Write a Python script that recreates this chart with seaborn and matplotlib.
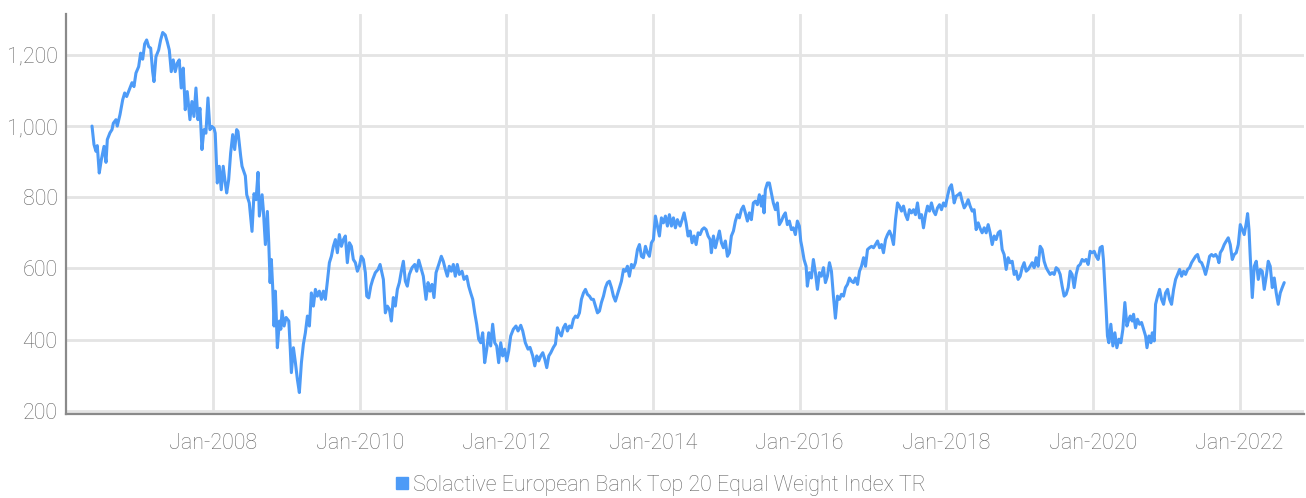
import matplotlib
matplotlib.use("Agg")
import matplotlib.pyplot as plt
import matplotlib.dates as mdates
from matplotlib.lines import Line2D
from matplotlib.ticker import FuncFormatter
import seaborn as sns
import pandas as pd

SERIES_NAME = "Solactive European Bank Top 20 Equal Weight Index TR"

# Observation times (decimal years) and index levels, grouped by period
t_2006_2008 = [
    2006.345, 2006.372, 2006.399, 2006.417, 2006.444, 2006.472, 2006.509, 2006.536, 2006.554, 2006.590,
    2006.618, 2006.636, 2006.672, 2006.690, 2006.727, 2006.764, 2006.791, 2006.818, 2006.854, 2006.891,
    2006.918, 2006.945, 2006.982,
    2007.009, 2007.037, 2007.064, 2007.091, 2007.119, 2007.146, 2007.173, 2007.191, 2007.218, 2007.255,
    2007.282, 2007.310, 2007.345, 2007.372, 2007.400, 2007.427, 2007.454, 2007.481, 2007.509, 2007.536,
    2007.563, 2007.591, 2007.618, 2007.645, 2007.682, 2007.709, 2007.737, 2007.764, 2007.791, 2007.819,
    2007.846, 2007.873, 2007.900, 2007.928, 2007.955, 2007.982,
    2008.010, 2008.027, 2008.055, 2008.082, 2008.109, 2008.136, 2008.164, 2008.183, 2008.210, 2008.237,
    2008.265, 2008.292, 2008.319, 2008.337, 2008.374, 2008.392, 2008.437, 2008.456, 2008.491, 2008.528,
    2008.555, 2008.583, 2008.610, 2008.628, 2008.665, 2008.682, 2008.710, 2008.737, 2008.756, 2008.774,
    2008.791, 2008.811, 2008.828, 2008.846, 2008.873, 2008.901, 2008.920, 2008.937, 2008.965, 2008.992,
]
v_2006_2008 = [
    1000, 948, 929, 945, 868, 905, 943, 898, 962, 981,
    990, 1008, 1018, 1000, 1032, 1074, 1093, 1083, 1102, 1122,
    1111, 1149, 1167,
    1205, 1188, 1231, 1242, 1223, 1219, 1153, 1125, 1195, 1214,
    1242, 1263, 1256, 1237, 1214, 1153, 1186, 1153, 1177, 1186,
    1107, 1163, 1046, 1097, 1018, 1069, 1027, 1107, 1018, 1050,
    934, 990, 980, 1079, 990, 999,
    994, 980, 840, 887, 821, 887, 840, 812, 849, 924,
    976, 934, 990, 985, 915, 887, 860, 807, 784, 704,
    810, 793, 870, 747, 807, 765, 667, 760, 672, 560,
    625, 541, 438, 536, 377, 452, 429, 480, 438, 462,
]

t_2009_2011 = [
    2009.029, 2009.047, 2009.064, 2009.092, 2009.119, 2009.146, 2009.173, 2009.201, 2009.228, 2009.255,
    2009.283, 2009.310, 2009.337, 2009.365, 2009.392, 2009.419, 2009.446, 2009.474, 2009.501, 2009.528,
    2009.556, 2009.583, 2009.610, 2009.637, 2009.665, 2009.692, 2009.719, 2009.747, 2009.774, 2009.801,
    2009.828, 2009.856, 2009.883, 2009.910, 2009.938, 2009.965, 2009.992,
    2010.019, 2010.047, 2010.074, 2010.093, 2010.120, 2010.148, 2010.175, 2010.210, 2010.247, 2010.275,
    2010.320, 2010.347, 2010.374, 2010.402, 2010.429, 2010.456, 2010.483, 2010.511, 2010.538, 2010.565,
    2010.593, 2010.620, 2010.647, 2010.674, 2010.711, 2010.748, 2010.775, 2010.803, 2010.838, 2010.865,
    2010.902, 2010.930, 2010.957, 2010.984,
    2011.011, 2011.039, 2011.076, 2011.111, 2011.138, 2011.166, 2011.193, 2011.220, 2011.248, 2011.275,
    2011.302, 2011.329, 2011.357, 2011.394, 2011.421, 2011.458, 2011.485, 2011.512, 2011.540, 2011.567,
    2011.594, 2011.621, 2011.649, 2011.676, 2011.703, 2011.731, 2011.758, 2011.785, 2011.812, 2011.840,
    2011.867, 2011.894, 2011.922, 2011.949, 2011.976,
]
v_2009_2011 = [
    452, 382, 307, 377, 335, 288, 251, 335, 387, 419,
    466, 438, 531, 494, 541, 522, 536, 513, 536, 513,
    564, 616, 634, 662, 681, 644, 695, 662, 681, 691,
    616, 672, 662, 625, 616, 592, 606,
    634, 625, 588, 522, 517, 550, 569, 588, 597, 611,
    569, 475, 494, 485, 452, 518, 494, 541, 560, 592,
    620, 564, 550, 583, 602, 611, 592, 623, 597, 578,
    513, 560, 536, 555,
    518, 588, 611, 634, 620, 597, 578, 606, 592, 611,
    578, 611, 583, 592, 569, 578, 550, 531, 513, 475,
    443, 401, 391, 419, 335, 373, 419, 382, 443, 391,
    382, 335, 391, 354, 373,
]

t_2012_2014 = [
    2012.004, 2012.031, 2012.058, 2012.094, 2012.130, 2012.158, 2012.195, 2012.222, 2012.257, 2012.294,
    2012.321, 2012.358, 2012.386, 2012.413, 2012.440, 2012.467, 2012.495, 2012.522, 2012.549, 2012.577,
    2012.604, 2012.639, 2012.667, 2012.694, 2012.721, 2012.748, 2012.776, 2012.803, 2012.830, 2012.858,
    2012.885, 2012.912, 2012.940, 2012.967, 2012.994,
    2013.021, 2013.049, 2013.076, 2013.103, 2013.131, 2013.158, 2013.185, 2013.212, 2013.240, 2013.267,
    2013.294, 2013.322, 2013.349, 2013.376, 2013.403, 2013.431, 2013.458, 2013.485, 2013.513, 2013.540,
    2013.567, 2013.595, 2013.622, 2013.649, 2013.676, 2013.704, 2013.731, 2013.758, 2013.786, 2013.813,
    2013.840, 2013.867, 2013.895, 2013.922, 2013.949, 2013.977,
    2014.004, 2014.031, 2014.058, 2014.086, 2014.113, 2014.140, 2014.168, 2014.195, 2014.222, 2014.250,
    2014.277, 2014.304, 2014.331, 2014.368, 2014.396, 2014.423, 2014.450, 2014.477, 2014.505, 2014.532,
    2014.559, 2014.587, 2014.614, 2014.641, 2014.668, 2014.696, 2014.723, 2014.750, 2014.778, 2014.795,
    2014.823, 2014.850, 2014.877, 2014.905, 2014.932, 2014.959, 2014.986,
]
v_2012_2014 = [
    340, 368, 410, 429, 438, 424, 440, 424, 391, 373,
    378, 354, 326, 354, 340, 354, 363, 345, 321, 354,
    363, 378, 387, 433, 419, 410, 433, 443, 424, 438,
    433, 457, 466, 462, 475,
    513, 531, 541, 527, 522, 513, 513, 494, 475, 480,
    504, 522, 546, 560, 564, 546, 522, 508, 527, 546,
    564, 597, 592, 606, 578, 611, 602, 616, 653, 667,
    634, 630, 662, 644, 634, 672,
    681, 747, 719, 691, 742, 728, 747, 719, 751, 719,
    742, 714, 737, 719, 737, 756, 728, 691, 705, 672,
    691, 667, 700, 695, 709, 714, 709, 691, 681, 644,
    691, 658, 681, 705, 672, 658, 677,
]

t_2015_2017 = [
    2015.014, 2015.041, 2015.068, 2015.096, 2015.123, 2015.150, 2015.177, 2015.205, 2015.232, 2015.259,
    2015.287, 2015.314, 2015.341, 2015.368, 2015.396, 2015.423, 2015.450, 2015.478, 2015.497, 2015.514,
    2015.532, 2015.560, 2015.587, 2015.614, 2015.641, 2015.669, 2015.696, 2015.723, 2015.751, 2015.778,
    2015.805, 2015.832, 2015.860, 2015.887, 2015.914, 2015.942, 2015.969, 2015.996,
    2016.015, 2016.033, 2016.060, 2016.088, 2016.105, 2016.133, 2016.160, 2016.187, 2016.215, 2016.242,
    2016.269, 2016.296, 2016.324, 2016.351, 2016.378, 2016.406, 2016.433, 2016.460, 2016.487, 2016.515,
    2016.542, 2016.569, 2016.597, 2016.624, 2016.651, 2016.678, 2016.706, 2016.733, 2016.760, 2016.788,
    2016.815, 2016.842, 2016.870, 2016.897, 2016.924, 2016.951, 2016.979,
    2017.006, 2017.033, 2017.061, 2017.088, 2017.115, 2017.142, 2017.170, 2017.197, 2017.224, 2017.252,
    2017.279, 2017.306, 2017.333, 2017.361, 2017.388, 2017.415, 2017.443, 2017.470, 2017.497, 2017.524,
    2017.552, 2017.579, 2017.606, 2017.634, 2017.661, 2017.688, 2017.716, 2017.743, 2017.770, 2017.797,
    2017.825, 2017.852, 2017.879, 2017.907, 2017.934, 2017.961, 2017.988,
]
v_2015_2017 = [
    634, 644, 691, 705, 733, 751, 742, 765, 775, 756,
    733, 756, 737, 784, 789, 779, 807, 775, 803, 756,
    821, 840, 840, 812, 784, 765, 784, 723, 733, 747,
    756, 723, 733, 709, 714, 695, 733, 719,
    677, 658, 625, 606, 550, 588, 573, 625, 588, 541,
    588, 578, 602, 560, 578, 616, 592, 522, 460, 522,
    513, 527, 522, 546, 555, 573, 564, 560, 573, 555,
    592, 606, 630, 606, 653, 658, 662,
    658, 667, 677, 658, 667, 644, 681, 695, 705, 691,
    667, 737, 784, 775, 761, 775, 751, 737, 765, 756,
    765, 751, 784, 742, 751, 714, 751, 775, 761, 784,
    761, 751, 770, 779, 765, 784, 775,
]

t_2018_2020 = [
    2018.016, 2018.043, 2018.070, 2018.089, 2018.107, 2018.134, 2018.162, 2018.189, 2018.216, 2018.244,
    2018.271, 2018.298, 2018.325, 2018.353, 2018.380, 2018.407, 2018.435, 2018.462, 2018.489, 2018.517,
    2018.544, 2018.571, 2018.598, 2018.626, 2018.653, 2018.680, 2018.708, 2018.735, 2018.762, 2018.789,
    2018.817, 2018.844, 2018.871, 2018.899, 2018.926, 2018.953, 2018.980,
    2019.008, 2019.035, 2019.062, 2019.090, 2019.117, 2019.144, 2019.172, 2019.199, 2019.226, 2019.253,
    2019.281, 2019.308, 2019.335, 2019.363, 2019.390, 2019.417, 2019.444, 2019.472, 2019.499, 2019.526,
    2019.554, 2019.581, 2019.608, 2019.635, 2019.663, 2019.690, 2019.717, 2019.745, 2019.772, 2019.799,
    2019.827, 2019.854, 2019.881, 2019.908, 2019.936, 2019.963, 2019.990,
    2020.018, 2020.045, 2020.072, 2020.099, 2020.127, 2020.144, 2020.164, 2020.181, 2020.199, 2020.218,
    2020.245, 2020.273, 2020.300, 2020.327, 2020.355, 2020.382, 2020.409, 2020.436, 2020.464, 2020.491,
    2020.509, 2020.536, 2020.554, 2020.581, 2020.608, 2020.636, 2020.663, 2020.690, 2020.718, 2020.737,
    2020.764, 2020.791, 2020.809, 2020.836, 2020.854, 2020.881, 2020.909, 2020.936, 2020.963, 2020.990,
]
v_2018_2020 = [
    803, 826, 835, 812, 784, 803, 807, 812, 789, 770,
    779, 793, 775, 761, 765, 709, 728, 712, 700, 714,
    700, 723, 700, 667, 691, 681, 700, 705, 653, 639,
    597, 630, 616, 620, 583, 592, 569,
    578, 602, 616, 592, 597, 606, 616, 602, 630, 606,
    662, 653, 620, 602, 592, 583, 588, 583, 602, 597,
    583, 550, 522, 527, 546, 592, 583, 546, 583, 606,
    611, 625, 620, 625, 611, 648, 644,
    648, 634, 625, 658, 662, 625, 550, 485, 410, 391,
    443, 382, 419, 377, 401, 391, 429, 504, 438, 457,
    466, 452, 471, 433, 457, 443, 448, 429, 410, 377,
    410, 391, 419, 396, 499, 522, 541, 513, 499, 531,
]

t_2021_2022 = [
    2021.018, 2021.045, 2021.072, 2021.100, 2021.127, 2021.154, 2021.182, 2021.209, 2021.236, 2021.263,
    2021.291, 2021.318, 2021.345, 2021.373, 2021.400, 2021.427, 2021.454, 2021.482, 2021.509, 2021.536,
    2021.564, 2021.591, 2021.618, 2021.645, 2021.673, 2021.700, 2021.719, 2021.737, 2021.764, 2021.791,
    2021.819, 2021.846, 2021.873, 2021.901, 2021.928, 2021.955, 2021.983,
    2022.010, 2022.037, 2022.064, 2022.092, 2022.110, 2022.129, 2022.146, 2022.174, 2022.201, 2022.228,
    2022.256, 2022.283, 2022.310, 2022.337, 2022.365, 2022.392, 2022.419, 2022.447, 2022.474, 2022.501,
    2022.528, 2022.556, 2022.583, 2022.610,
]
v_2021_2022 = [
    541, 513, 499, 541, 569, 583, 597, 578, 592, 583,
    597, 602, 616, 625, 634, 639, 620, 616, 602, 583,
    606, 634, 639, 634, 639, 630, 616, 644, 653, 667,
    677, 686, 667, 625, 639, 644, 667,
    723, 709, 695, 728, 754, 709, 634, 518, 606, 620,
    569, 597, 592, 541, 578, 620, 606, 546, 573, 531,
    499, 531, 546, 560,
]

y_ticks = [200, 400, 600, 800, 1000, 1200]
x_tick_years = [2008, 2010, 2012, 2014, 2016, 2018, 2020, 2022]


def to_timestamp(t):
    """Convert a decimal year to a pandas Timestamp."""
    year = int(t)
    start = pd.Timestamp(year, 1, 1)
    end = pd.Timestamp(year + 1, 1, 1)
    return start + (end - start) * (t - year)


times = t_2006_2008 + t_2009_2011 + t_2012_2014 + t_2015_2017 + t_2018_2020 + t_2021_2022
levels = v_2006_2008 + v_2009_2011 + v_2012_2014 + v_2015_2017 + v_2018_2020 + v_2021_2022
df = pd.DataFrame({"date": [to_timestamp(t) for t in times], "level": levels})

LINE_BLUE = "#4d9bf7"
TEXT_GREY = "#676767"
GRID_GREY = "#e4e4e4"
AXIS_GREY = "#8a8a8a"

sns.set_theme(style="whitegrid")
plt.rcParams["font.family"] = ["Roboto", "DejaVu Sans"]

fig = plt.figure(figsize=(13.06, 4.98), dpi=100)
ax = fig.add_axes([66 / 1306, 1 - 414 / 498, (1304 - 66) / 1306, (414 - 14) / 498])

sns.lineplot(data=df, x="date", y="level", ax=ax, color=LINE_BLUE, linewidth=2.2,
             legend=False, estimator=None)

ax.set_xlim(to_timestamp(2005.99), to_timestamp(2022.88))
ax.set_ylim(190.7, 1315)

ax.set_yticks(y_ticks)
ax.yaxis.set_major_formatter(FuncFormatter(lambda v, _: f"{int(v):,}"))
ax.set_xticks([pd.Timestamp(y, 1, 1) for y in x_tick_years])
ax.xaxis.set_major_formatter(mdates.DateFormatter("%b-%Y"))

ax.set_xlabel("")
ax.set_ylabel("")
ax.tick_params(axis="both", length=0, labelsize=15.5, labelcolor=TEXT_GREY)
ax.tick_params(axis="x", pad=14)
ax.tick_params(axis="y", pad=6)
for lab in ax.get_xticklabels() + ax.get_yticklabels():
    lab.set_fontweight("light")

ax.grid(True, color=GRID_GREY, linewidth=2.0)
ax.set_axisbelow(True)
for side in ("top", "right"):
    ax.spines[side].set_visible(False)
for side in ("left", "bottom"):
    ax.spines[side].set_visible(True)
    ax.spines[side].set_color(AXIS_GREY)
    ax.spines[side].set_linewidth(1.6)

handle = Line2D([], [], linestyle="none", marker="s", markersize=8,
                markerfacecolor=LINE_BLUE, markeredgecolor=LINE_BLUE)
fig.legend([handle], [SERIES_NAME], loc="center", bbox_to_anchor=(661 / 1306, 1 - 485 / 498),
           frameon=False, handlelength=0.6, handletextpad=0.2,
           prop={"size": 15.5, "weight": "light"}, labelcolor=TEXT_GREY)

fig.savefig("out.png", dpi=100, facecolor="white")
